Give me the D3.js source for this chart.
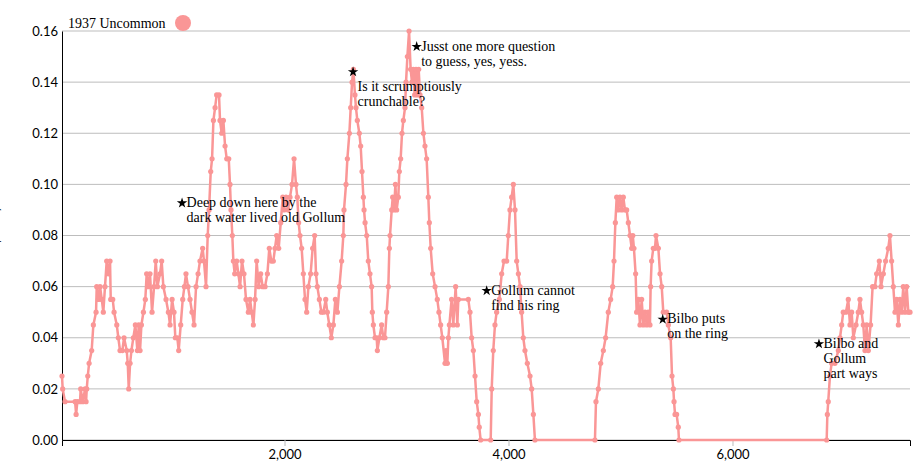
<!DOCTYPE html>
<html>
<head>
<meta charset="utf-8">
<script src="https://cdn.jsdelivr.net/npm/d3@7"></script>
<style>
  body { margin: 0; background: #fff; }
  .tick text { font-family: Lato, sans-serif; font-size: 13px; fill: #000; }
  .note text, .legend text { font-family: "Liberation Serif", serif; font-size: 14px; fill: #000; }
</style>
</head>
<body>
<div id="chart"></div>
<script>
// word position in the chapter (x) and rolling frequency of uncommon words (y)
const positions = [
  13, 19, 40, 130, 139, 150, 174, 180, 198, 219, 228, 234, 243, 255, 278, 293, 317, 323, 338, 353,
  368, 382, 397, 412, 427, 442, 448, 466, 478, 502, 516, 531, 552, 567, 591, 600, 609, 621, 633, 650,
  668, 686, 698, 710, 722, 740, 757, 769, 784, 799, 817, 835, 850, 865, 888, 903, 918, 942, 963, 978,
  996, 1013, 1025, 1043, 1055, 1073, 1091, 1106, 1120, 1138, 1156, 1174, 1192, 1210, 1228, 1245, 1269, 1281, 1299, 1314,
  1326, 1341, 1353, 1365, 1380, 1394, 1415, 1424, 1439, 1454, 1469, 1484, 1502, 1513, 1522, 1534, 1543, 1555, 1573, 1588,
  1603, 1620, 1638, 1656, 1677, 1692, 1707, 1722, 1737, 1751, 1769, 1787, 1805, 1826, 1847, 1864, 1882, 1900, 1915, 1930,
  1948, 1966, 1984, 1996, 2013, 2031, 2049, 2067, 2085, 2102, 2114, 2126, 2138, 2153, 2168, 2183, 2198, 2213, 2233, 2251,
  2269, 2281, 2293, 2311, 2329, 2347, 2368, 2382, 2400, 2418, 2436, 2454, 2472, 2490,
  2510, 2525, 2531, 2549, 2561, 2579, 2591, 2603, 2615, 2629, 2638, 2650, 2668, 2680, 2692, 2704, 2710, 2719, 2734, 2748,
  2763, 2778, 2784, 2793, 2808, 2823, 2829, 2847, 2867, 2882, 2897, 2912, 2927, 2936, 2942, 2957, 2966, 2978, 2990, 3001,
  3016, 3025, 3037, 3049, 3061, 3076, 3085, 3097, 3112, 3126, 3138, 3150, 3162, 3174, 3186, 3198, 3210, 3225, 3240, 3254,
  3269, 3284, 3293, 3305, 3323, 3344, 3364, 3379, 3394, 3409, 3433, 3442, 3454, 3463, 3472, 3492, 3507, 3528, 3543, 3552,
  3641, 3656, 3671, 3686, 3701, 3716, 3731, 3739, 3751, 3841, 3850, 3864, 3879, 3894, 3918, 3939, 3960, 3984, 3998, 4013,
  4028, 4043, 4058, 4073, 4088, 4103, 4117, 4132, 4147, 4168, 4192, 4207, 4222, 4236, 4772, 4781, 4802, 4823, 4847, 4867,
  4891, 4912, 4930, 4942, 4954, 4966, 4980, 4995, 5010, 5025,
  5040, 5055, 5070, 5085, 5100, 5110, 5120, 5135, 5144, 5159, 5174, 5189, 5204, 5219, 5234, 5248, 5263, 5269, 5278, 5293,
  5308, 5317, 5338, 5353, 5368, 5382, 5412, 5427, 5448, 5460, 5472, 5478, 5487, 5501, 5516, 5522, 6841, 6847, 6855, 6870,
  6885, 6915, 6945, 6960, 6975, 6989, 7013, 7034, 7049, 7064, 7079, 7103, 7123, 7138, 7153, 7168, 7183, 7198, 7213, 7233,
  7251, 7272, 7287, 7311, 7326, 7347, 7367, 7391, 7406, 7421, 7436, 7451, 7466, 7481, 7495, 7510, 7525, 7540, 7555, 7570,
  7585
];

const frequencies = [
  0.025, 0.02, 0.015, 0.015, 0.01, 0.015, 0.015, 0.02, 0.015, 0.02, 0.015, 0.02, 0.025, 0.03, 0.035, 0.045, 0.05, 0.06, 0.055, 0.06,
  0.055, 0.05, 0.06, 0.07, 0.065, 0.07, 0.055, 0.055, 0.05, 0.045, 0.04, 0.035, 0.035, 0.04, 0.035, 0.03, 0.02, 0.03, 0.035, 0.04,
  0.045, 0.035, 0.045, 0.035, 0.045, 0.05, 0.055, 0.065, 0.06, 0.065, 0.05, 0.06, 0.07, 0.06, 0.065, 0.07, 0.06, 0.055, 0.05, 0.045,
  0.055, 0.05, 0.04, 0.04, 0.035, 0.045, 0.055, 0.06, 0.065, 0.06, 0.055, 0.05, 0.045, 0.06, 0.065, 0.07, 0.075, 0.07, 0.06, 0.08,
  0.09, 0.105, 0.11, 0.125, 0.13, 0.135, 0.135, 0.125, 0.12, 0.125, 0.115, 0.11, 0.11, 0.1, 0.09, 0.08, 0.07, 0.065, 0.07, 0.065,
  0.06, 0.07, 0.065, 0.055, 0.05, 0.055, 0.05, 0.045, 0.055, 0.07, 0.06, 0.065, 0.06, 0.06, 0.065, 0.075, 0.07, 0.07, 0.075, 0.08,
  0.075, 0.085, 0.095, 0.09, 0.095, 0.09, 0.095, 0.1, 0.11, 0.1, 0.095, 0.085, 0.08, 0.075, 0.065, 0.055, 0.05, 0.06, 0.065, 0.075,
  0.08, 0.065, 0.06, 0.055, 0.05, 0.05, 0.055, 0.05, 0.045, 0.04, 0.045, 0.055, 0.05, 0.06,
  0.07, 0.08, 0.09, 0.1, 0.11, 0.12, 0.13, 0.14, 0.145, 0.135, 0.13, 0.125, 0.12, 0.115, 0.105, 0.095, 0.09, 0.085, 0.08, 0.07,
  0.065, 0.06, 0.05, 0.045, 0.04, 0.04, 0.035, 0.04, 0.045, 0.04, 0.04, 0.05, 0.06, 0.075, 0.08, 0.09, 0.095, 0.09, 0.1, 0.09,
  0.095, 0.105, 0.11, 0.12, 0.125, 0.13, 0.14, 0.15, 0.16, 0.145, 0.14, 0.145, 0.135, 0.145, 0.135, 0.145, 0.135, 0.13, 0.12, 0.115,
  0.11, 0.095, 0.085, 0.075, 0.065, 0.06, 0.055, 0.05, 0.045, 0.04, 0.03, 0.035, 0.03, 0.04, 0.045, 0.055, 0.045, 0.06, 0.045, 0.055,
  0.055, 0.05, 0.04, 0.035, 0.025, 0.015, 0.01, 0.005, 0, 0, 0.02, 0.035, 0.045, 0.05, 0.055, 0.065, 0.07, 0.07, 0.08, 0.09,
  0.095, 0.1, 0.09, 0.07, 0.065, 0.06, 0.05, 0.04, 0.035, 0.03, 0.025, 0.02, 0.01, 0, 0, 0.015, 0.02, 0.03, 0.035, 0.04,
  0.05, 0.055, 0.06, 0.07, 0.085, 0.095, 0.09, 0.095, 0.09, 0.095,
  0.09, 0.09, 0.085, 0.08, 0.075, 0.08, 0.075, 0.065, 0.05, 0.055, 0.045, 0.055, 0.045, 0.05, 0.045, 0.05, 0.045, 0.06, 0.07, 0.075,
  0.075, 0.08, 0.075, 0.065, 0.06, 0.05, 0.05, 0.045, 0.04, 0.025, 0.02, 0.015, 0.01, 0.01, 0.005, 0, 0, 0.01, 0.015, 0.025,
  0.03, 0.03, 0.035, 0.04, 0.045, 0.05, 0.05, 0.055, 0.045, 0.05, 0.04, 0.045, 0.05, 0.055, 0.05, 0.045, 0.035, 0.045, 0.035, 0.045,
  0.06, 0.06, 0.065, 0.07, 0.06, 0.065, 0.07, 0.075, 0.08, 0.07, 0.06, 0.05, 0.055, 0.045, 0.055, 0.05, 0.06, 0.05, 0.06, 0.05,
  0.05
];

const yTicks = [0, 0.02, 0.04, 0.06, 0.08, 0.10, 0.12, 0.14, 0.16];
const xTicks = [2000, 4000, 6000];

// annotated moments in the text
const noteX = [1085, 2612, 3180, 3805, 5377, 6772];
const noteY = [0.0927, 0.144, 0.1539, 0.0584, 0.0472, 0.0376];
const noteLines = [
  ["Deep down here by the", "dark water lived old Gollum"],
  ["", "Is it scrumptiously", "crunchable?"],
  ["Jusst one more question", "to guess, yes, yess."],
  ["Gollum cannot", "find his ring"],
  ["Bilbo puts", "on the ring"],
  ["Bilbo and", "Gollum", "part ways"]
];

const seriesName = "1937 Uncommon";
const yLabel = "Frequency";

const data = positions.map((p, i) => ({ pos: p, freq: frequencies[i] }));
const notes = noteX.map((x, i) => ({ x, y: noteY[i], lines: noteLines[i] }));

const width  = 919;
const height = 464;
const margin = { top: 31, right: 9, bottom: 24, left: 62 };
const innerWidth  = width  - margin.left - margin.right;
const innerHeight = height - margin.top  - margin.bottom;
const pink = "#fa9696";

const svg = d3.select("#chart")
  .append("svg")
  .attr("width", width)
  .attr("height", height);

const innerChart = svg.append("g")
  .attr("transform", `translate(${margin.left}, ${margin.top})`);

const xScale = d3.scaleLinear()
  .domain(d3.extent(data, d => d.pos))
  .range([0, innerWidth]);

const yScale = d3.scaleLinear()
  .domain([0, 0.16])
  .range([innerHeight, 0]);

// horizontal grid
innerChart.append("g")
  .selectAll("line")
  .data(yTicks)
  .join("line")
    .attr("x1", 0)
    .attr("x2", innerWidth)
    .attr("y1", d => yScale(d))
    .attr("y2", d => yScale(d))
    .attr("stroke", "#bdbdbd")
    .attr("stroke-width", 1);

// y axis
const yAxis = innerChart.append("g")
  .call(d3.axisLeft(yScale).tickValues(yTicks).tickFormat(d3.format(".2f")).tickSize(0).tickPadding(4));
yAxis.select(".domain").attr("stroke", "#000");

// x axis
const xAxis = innerChart.append("g")
  .attr("transform", `translate(0, ${innerHeight})`)
  .call(d3.axisBottom(xScale).tickValues(xTicks).tickFormat(d3.format(",")).tickSize(6).tickPadding(4));
xAxis.select(".domain").attr("stroke", "#000");
xAxis.selectAll(".tick line").attr("stroke", "#bbb");

// y label, mostly hidden past the page edge as in the original
svg.append("text")
  .attr("transform", `translate(-1, ${margin.top + innerHeight / 2}) rotate(-90)`)
  .attr("text-anchor", "middle")
  .style("font-family", "Lato, sans-serif")
  .style("font-size", "13px")
  .style("fill", "#333")
  .text(yLabel);

const lineGenerator = d3.line()
  .x(d => xScale(d.pos))
  .y(d => yScale(d.freq));

innerChart.append("path")
  .datum(data)
  .attr("fill", "none")
  .attr("stroke", pink)
  .attr("stroke-width", 2.5)
  .attr("stroke-linejoin", "round")
  .attr("d", lineGenerator);

innerChart.selectAll("circle.dot")
  .data(data)
  .join("circle")
    .attr("class", "dot")
    .attr("cx", d => xScale(d.pos))
    .attr("cy", d => yScale(d.freq))
    .attr("r", 2.6)
    .attr("fill", pink);

// annotations
const note = innerChart.selectAll("g.note")
  .data(notes)
  .join("g")
    .attr("class", "note")
    .attr("transform", d => `translate(${xScale(d.x)}, ${yScale(d.y)})`);

note.append("path")
  .attr("d", d3.symbol(d3.symbolStar, 34))
  .attr("fill", "#000");

note.append("text")
  .selectAll("tspan")
  .data(d => d.lines)
  .join("tspan")
    .attr("x", 4.5)
    .attr("y", (d, i) => 4 + i * 15)
    .text(d => d);

// legend
const legend = svg.append("g").attr("class", "legend");
legend.append("text")
  .attr("x", 68)
  .attr("y", 28)
  .text(seriesName);
legend.append("circle")
  .attr("cx", 183)
  .attr("cy", 23)
  .attr("r", 8)
  .attr("fill", pink);
</script>
</body>
</html>
